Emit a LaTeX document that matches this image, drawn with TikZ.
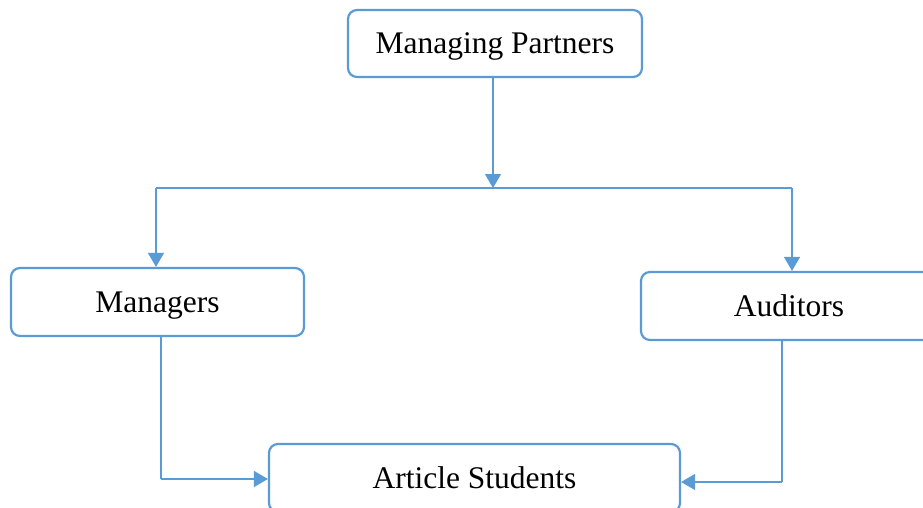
\documentclass[tikz,border=0pt]{standalone}
\usepackage{fontspec}
\setmainfont{Liberation Serif}
\usetikzlibrary{arrows.meta}
\definecolor{boxblue}{HTML}{5B9BD5}
\begin{document}
\begin{tikzpicture}[x=1pt,y=-1pt,
  box/.style={draw=boxblue,line width=2.2pt,rounded corners=9pt,fill=white,inner sep=0pt,text height=25pt,text depth=4pt,font=\fontsize{31.5}{36}\selectfont},
  conn/.style={draw=boxblue,line width=1.2pt},
  arr/.style={conn,-{Triangle[width=16pt,length=14pt]}}]
\useasboundingbox (0,0) rectangle (923,508);
\node[box,minimum width=294pt,minimum height=67pt] (mp) at (495,43.5) {Managing Partners};
\node[box,minimum width=293pt,minimum height=68pt] (mg) at (157.5,302) {Managers};
\node[box,minimum width=296pt,minimum height=68pt] (au) at (789,306) {Auditors};
\node[box,minimum width=411pt,minimum height=68pt] (as) at (474.5,478) {Article Students};
\coordinate (j) at (493,188);
\coordinate (jl) at (156,188);
\coordinate (jr) at (792,188);
\coordinate (ml) at (161,479);
\coordinate (ar) at (782,482);
\draw[arr] (mp.south -| j) -- (j);
\draw[conn] (jl) -- (jr);
\draw[arr] (jl) -- (jl |- mg.north);
\draw[arr] (jr) -- (jr |- au.north);
\draw[conn] (ml |- mg.south) -- (ml);
\draw[arr] (ml) -- (ml -| as.west);
\draw[conn] (ar |- au.south) -- (ar);
\draw[arr] (ar) -- (ar -| as.east);
\end{tikzpicture}
\end{document}
